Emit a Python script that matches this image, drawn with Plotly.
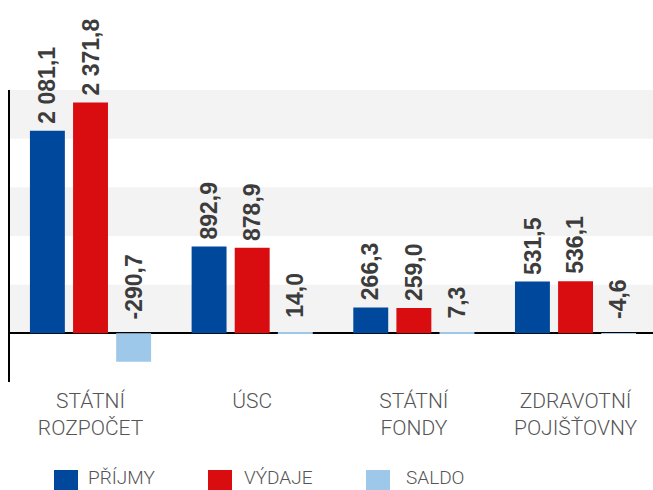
import plotly.graph_objects as go

categories = ["STÁTNÍ<br>ROZPOČET", "ÚSC", "STÁTNÍ<br>FONDY", "ZDRAVOTNÍ<br>POJIŠŤOVNY"]
prijmy = [2081.1, 892.9, 266.3, 531.5]
vydaje = [2371.8, 878.9, 259.0, 536.1]
saldo = [-290.7, 14.0, 7.3, -4.6]
series_names = ["PŘÍJMY", "VÝDAJE", "SALDO"]
series_values = [prijmy, vydaje, saldo]
colors = ["#00489b", "#d90d10", "#9ec8ea"]
band_edges = [(0, 500), (1000, 1500), (2000, 2500)]

W, H = 653, 490
ML, MR, MT, MB = 10, 0, 90, 108
PW, PH = W - ML - MR, H - MT - MB
BARGAP = 0.2


def fmt(v):
    return f"{v:,.1f}".replace(",", " ").replace(".", ",")


fig = go.Figure()
for name, vals, col in zip(series_names, series_values, colors):
    fig.add_trace(go.Bar(x=categories, y=vals, name=name, marker_color=col,
                         marker_line_width=0, showlegend=False))

slot = (1 - BARGAP) / 3
annotations = []
for si, (vals, name) in enumerate(zip(series_values, series_names)):
    for ci, v in enumerate(vals):
        annotations.append(dict(
            x=ci + (si - 1) * slot, y=max(v, 0), xref="x", yref="y",
            text=fmt(v), textangle=-90, showarrow=False,
            xanchor="center", yanchor="bottom",
            yshift=12 if si == 2 else 5,
            font=dict(family="Liberation Sans", size=23, color="#3c3c3c", weight="bold"),
        ))

shapes = []
for y0, y1 in band_edges:
    shapes.append(dict(type="rect", xref="paper", yref="y", x0=0, x1=1, y0=y0, y1=y1,
                       fillcolor="#f3f3f3", line_width=0, layer="below"))

# custom legend
def px_x(X):
    return (X - ML) / PW

def px_y(Y):
    return (H - MB - Y) / PH

leg_sq = [54, 208, 366]
leg_tx = [87, 243, 405]
for name, col, sx, tx in zip(series_names, colors, leg_sq, leg_tx):
    shapes.append(dict(type="rect", xref="paper", yref="paper",
                       x0=px_x(sx), x1=px_x(sx + 24), y0=px_y(470), y1=px_y(494),
                       fillcolor=col, line_width=0))
    annotations.append(dict(x=px_x(tx), y=px_y(490), xref="paper", yref="paper",
                            text=name, showarrow=False, xanchor="left", yanchor="bottom",
                            borderpad=0,
                            font=dict(family="Roboto", size=19, color="#555555", weight=300)))

fig.update_layout(
    width=W, height=H,
    margin=dict(l=ML, r=MR, t=MT, b=MB, pad=0),
    paper_bgcolor="white", plot_bgcolor="white",
    barmode="group", bargap=BARGAP, bargroupgap=0.19,
    shapes=shapes, annotations=annotations,
    showlegend=False,
)
fig.update_xaxes(range=[-0.498, 3.479], showgrid=False, zeroline=False, showline=False,
                 ticks="", ticklabelstandoff=4,
                 tickfont=dict(family="Roboto", size=21, color="#555555", weight=300))
fig.update_yaxes(range=[-500, 2500], showgrid=False, showticklabels=False, ticks="",
                 zeroline=True, zerolinecolor="#000000", zerolinewidth=1.5,
                 showline=True, linecolor="#000000", linewidth=2)

fig.write_html("out.html")
